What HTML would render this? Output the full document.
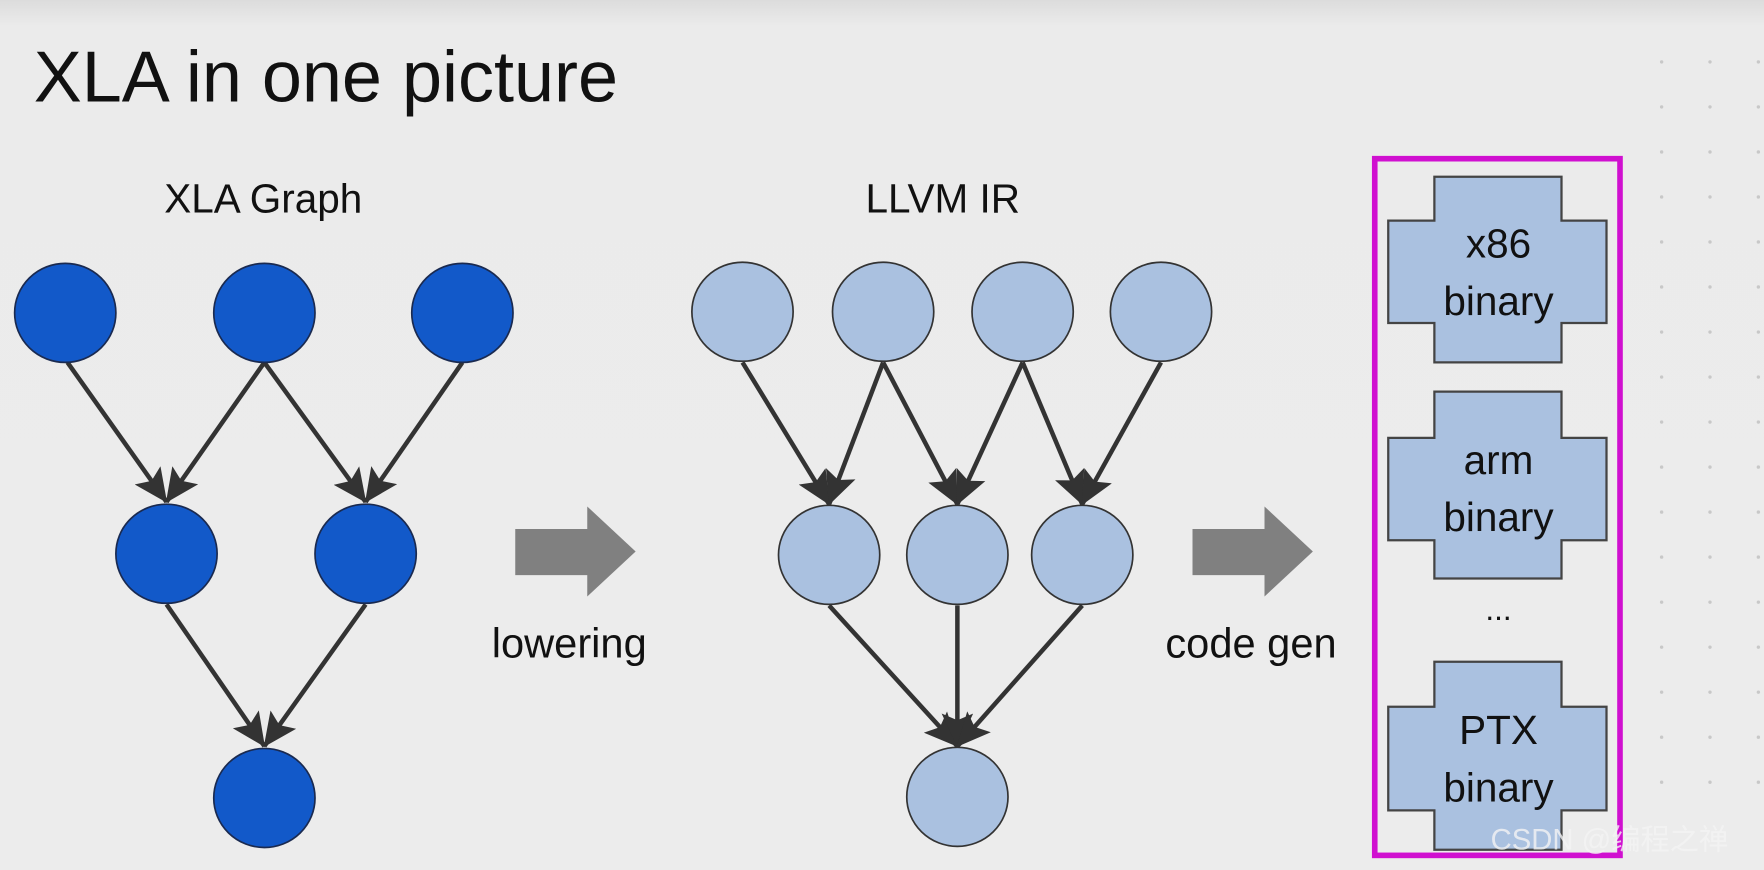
<!DOCTYPE html>
<html><head><meta charset="utf-8"><style>
html,body{margin:0;padding:0;background:#ececec;}
svg{display:block;}
text{font-family:"Liberation Sans",sans-serif;fill:#111;}
</style></head><body>
<svg width="1764" height="870" viewBox="0 0 1568 773" preserveAspectRatio="none" xmlns="http://www.w3.org/2000/svg">
<defs>
<marker id="ah" viewBox="0 0 30 28" refX="29" refY="14" markerWidth="30" markerHeight="28" markerUnits="userSpaceOnUse" orient="auto">
<path d="M0,0 L30,14 L0,28 L6,14 Z" fill="#333"/>
</marker>
<linearGradient id="bg" x1="0" y1="0" x2="0" y2="1">
<stop offset="0" stop-color="#dcdcdc"/><stop offset="0.03" stop-color="#ebebeb"/><stop offset="1" stop-color="#ececec"/>
</linearGradient>
</defs>
<rect width="1568" height="773" fill="url(#bg)"/>
<g fill="#c8c8c8">
<g id="dc"><circle cx="1477" cy="55" r="1.5"/><circle cx="1477" cy="95" r="1.5"/><circle cx="1477" cy="135" r="1.5"/><circle cx="1477" cy="175" r="1.5"/><circle cx="1477" cy="215" r="1.5"/><circle cx="1477" cy="255" r="1.5"/><circle cx="1477" cy="295" r="1.5"/><circle cx="1477" cy="335" r="1.5"/><circle cx="1477" cy="375" r="1.5"/><circle cx="1477" cy="415" r="1.5"/><circle cx="1477" cy="455" r="1.5"/><circle cx="1477" cy="495" r="1.5"/><circle cx="1477" cy="535" r="1.5"/><circle cx="1477" cy="575" r="1.5"/><circle cx="1477" cy="615" r="1.5"/><circle cx="1477" cy="655" r="1.5"/><circle cx="1477" cy="695" r="1.5"/></g>
<use href="#dc" x="43"/><use href="#dc" x="86"/>
</g>
<text x="30" y="90" font-size="64">XLA in one picture</text>
<text x="234" y="189" font-size="36" text-anchor="middle">XLA Graph</text>
<text x="838" y="189" font-size="36" text-anchor="middle">LLVM IR</text>
<g stroke="#333" stroke-width="4" marker-end="url(#ah)">
<line x1="60" y1="322" x2="148" y2="446"/>
<line x1="235" y1="322" x2="148" y2="446"/>
<line x1="235" y1="322" x2="325" y2="446"/>
<line x1="411" y1="322" x2="325" y2="446"/>
<line x1="148" y1="537" x2="235" y2="663"/>
<line x1="325" y1="537" x2="235" y2="663"/>
<line x1="660" y1="322" x2="737" y2="448"/>
<line x1="785" y1="322" x2="737" y2="448"/>
<line x1="785" y1="322" x2="851" y2="448"/>
<line x1="909" y1="322" x2="851" y2="448"/>
<line x1="909" y1="322" x2="962" y2="448"/>
<line x1="1032" y1="322" x2="962" y2="448"/>
<line x1="737" y1="538" x2="851" y2="663"/>
<line x1="851" y1="538" x2="851" y2="663"/>
<line x1="962" y1="538" x2="851" y2="663"/>
</g>
<g fill="#1259c9" stroke="#1a2a50" stroke-width="1.5">
<ellipse cx="58" cy="278" rx="45" ry="44"/>
<ellipse cx="235" cy="278" rx="45" ry="44"/>
<ellipse cx="411" cy="278" rx="45" ry="44"/>
<ellipse cx="148" cy="492" rx="45" ry="44"/>
<ellipse cx="325" cy="492" rx="45" ry="44"/>
<ellipse cx="235" cy="709" rx="45" ry="44"/>
</g>
<g fill="#aac1e0" stroke="#333" stroke-width="1.5">
<ellipse cx="660" cy="277" rx="45" ry="44"/>
<ellipse cx="785" cy="277" rx="45" ry="44"/>
<ellipse cx="909" cy="277" rx="45" ry="44"/>
<ellipse cx="1032" cy="277" rx="45" ry="44"/>
<ellipse cx="737" cy="493" rx="45" ry="44"/>
<ellipse cx="851" cy="493" rx="45" ry="44"/>
<ellipse cx="962" cy="493" rx="45" ry="44"/>
<ellipse cx="851" cy="708" rx="45" ry="44"/>
</g>
<g fill="#808080">
<path d="M458,470 L522,470 L522,450 L565,490 L522,530 L522,511 L458,511 Z"/>
<path d="M1060,470 L1124,470 L1124,450 L1167,490 L1124,530 L1124,511 L1060,511 Z"/>
</g>
<text x="506" y="584" font-size="37" text-anchor="middle">lowering</text>
<text x="1112" y="584" font-size="37" text-anchor="middle">code gen</text>
<g fill="#aac1e0" stroke="#444" stroke-width="2">
<path d="M1275,157 L1388,157 L1388,196 L1428,196 L1428,287 L1388,287 L1388,322 L1275,322 L1275,287 L1234,287 L1234,196 L1275,196 Z"/>
<path d="M1275,348 L1388,348 L1388,389 L1428,389 L1428,480 L1388,480 L1388,514 L1275,514 L1275,480 L1234,480 L1234,389 L1275,389 Z"/>
<path d="M1275,588 L1388,588 L1388,628 L1428,628 L1428,720 L1388,720 L1388,755 L1275,755 L1275,720 L1234,720 L1234,628 L1275,628 Z"/>
</g>
<g font-size="36" text-anchor="middle">
<text x="1332" y="229">x86</text><text x="1332" y="280">binary</text>
<text x="1332" y="421">arm</text><text x="1332" y="472">binary</text>
<text x="1332" y="551" font-size="28">...</text>
<text x="1332" y="661">PTX</text><text x="1332" y="712">binary</text>
</g>
<rect x="1222" y="141" width="218" height="619" fill="none" stroke="#d010d0" stroke-width="5"/>
<text x="1325" y="755" font-size="26" fill="#fff" style="fill:#f4f4f4" opacity="0.8">CSDN @编程之禅</text>
</svg>
</body></html>
